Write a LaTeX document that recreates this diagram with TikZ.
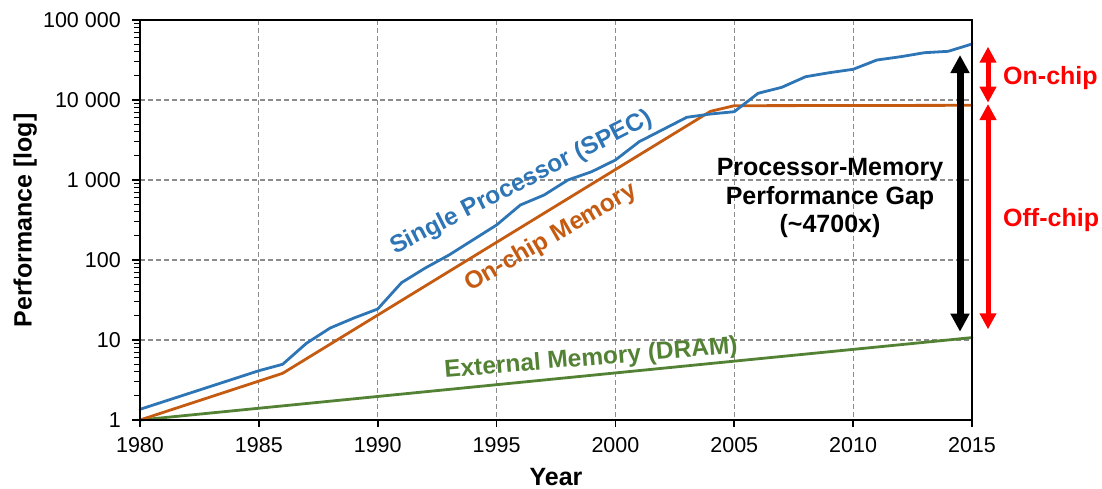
\documentclass[tikz,border=0pt]{standalone}
\usepackage{fontspec}
\setmainfont{Liberation Sans}
\usetikzlibrary{arrows.meta}
\definecolor{cpu}{HTML}{2E75B6}
\definecolor{onchip}{HTML}{C55A11}
\definecolor{dram}{HTML}{548235}
\definecolor{gridc}{HTML}{8C8C8C}
\definecolor{gapred}{HTML}{FF0000}
\begin{document}
\begin{tikzpicture}[x=1pt,y=-1pt,
  gridline/.style={draw=gridc,line width=1.2pt,dash pattern=on 5pt off 3pt},
  frameline/.style={draw=black,line width=1.8pt},
  majortick/.style={draw=black,line width=1.8pt},
  minortick/.style={draw=black,line width=1.1pt},
  series/.style={line width=2.8pt,line join=round,line cap=round},
  ticklabel/.style={font=\fontsize{21.5}{24}\selectfont,inner sep=0pt},
  biglabel/.style={font=\bfseries\fontsize{25}{28.5}\selectfont,inner sep=0pt},
  serieslabel/.style={font=\bfseries\fontsize{24.5}{28}\selectfont,inner sep=0pt},
  gaparrow/.style={line width=7pt,-{Triangle[width=18pt,length=18pt]}},
  redarrow/.style={draw=gapred,line width=5pt,{Triangle[width=16pt,length=16pt]}-{Triangle[width=16pt,length=16pt]}}
]
\useasboundingbox (0,0) rectangle (1102,488);
% grid
\foreach \yy in {100,180,260,340}
  \draw[gridline] (140,\yy) -- (972,\yy);
\begin{scope}[x=23.771pt,xshift=140pt]
\foreach \n in {5,10,...,30}
  \draw[gridline] (\n,20) -- (\n,420);
% series
\draw[series,dram] (0,420) -- (35,337.6);
\draw[series,onchip] (0,420) -- (6,373.3) -- (24,111.3) -- (25,105.7) -- (35,105.3);
\draw[series,cpu] (0,409.3) -- (5,370.7) -- (6,364.3) -- (7,343.3) -- (8,328) -- (9,318)
  -- (10,309) -- (11,282.7) -- (12,268) -- (13,255) -- (14,240) -- (15,225) -- (16,205)
  -- (17,195) -- (18,180) -- (19,171.7) -- (20,160) -- (21,141.7) -- (22,129.5)
  -- (23,117.3) -- (24,114) -- (25,111.7) -- (26,93.3) -- (27,87.3) -- (28,76.7)
  -- (29,72.7) -- (30,69.3) -- (31,60) -- (32,56.7) -- (33,52.7) -- (34,51.3) -- (35,44);
% x ticks and labels
\foreach \n/\yr in {0/1980,5/1985,10/1990,15/1995,20/2000,25/2005,30/2010,35/2015} {
  \draw[majortick] (\n,420) -- (\n,427);
  \node[ticklabel] (x\yr) at (\n,445) {\yr};
}
\end{scope}
% frame
\draw[frameline] (140,20) rectangle (972,420);
% y ticks
\foreach \d in {0,...,4}
  \foreach \k in {2,...,9}
    \draw[minortick] (134,{420-80*(\d+log10(\k))}) -- (140,{420-80*(\d+log10(\k))});
\foreach \yy/\lab/\nm in {420/1/a,340/10/b,260/100/c,180/{1 000}/d,100/{10 000}/e,20/{100 000}/f} {
  \draw[majortick] (132,\yy) -- (140,\yy);
  \node[ticklabel,anchor=east] (y\nm) at (121,\yy) {\lab};
}
% axis titles
\node[biglabel] (xtitle) at (556,477) {Year};
\node[biglabel,rotate=90,anchor=base] (ytitle) at (31.5,220.5) {Performance [log]};
% series labels
\node[serieslabel,text=cpu,rotate=27] (lcpu) at (521.5,183) {Single Processor (SPEC)};
\node[serieslabel,text=onchip,rotate=30] (lon) at (551,238) {On-chip Memory};
\node[serieslabel,text=dram,rotate=4.8] (ldram) at (591,359) {External Memory (DRAM)};
% gap text
\node[biglabel,align=center] (gaptext) at (830,198) {Processor-Memory\\Performance Gap\\(\textasciitilde 4700x)};
% arrows
\coordinate (gapTop) at (960,55);
\coordinate (gapBot) at (960,331.7);
\coordinate (gapMid) at (960,193);
\draw[gaparrow] (gapMid) -- (gapTop);
\draw[gaparrow] (gapMid) -- (gapBot);
\coordinate (onTop) at (988,46.7);
\coordinate (onBot) at (988,102.7);
\coordinate (offTop) at (988,104);
\coordinate (offBot) at (988,329.3);
\draw[redarrow] (onTop) -- (onBot);
\draw[redarrow] (offTop) -- (offBot);
\node[biglabel,text=gapred,anchor=base west] (lonchip) at (1003,84.5) {On-chip};
\node[biglabel,text=gapred,anchor=base west] (loffchip) at (1003,226.5) {Off-chip};
\end{tikzpicture}
\end{document}
